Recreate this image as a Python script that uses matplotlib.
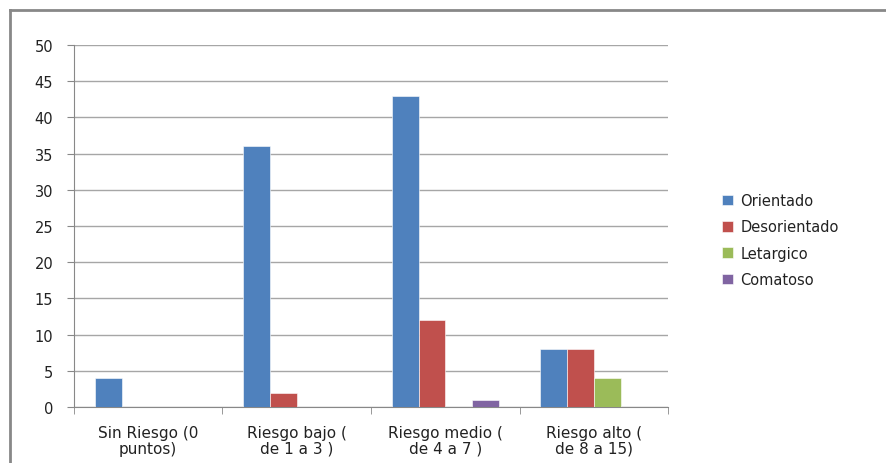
import matplotlib.pyplot as plt
import numpy as np
from matplotlib.lines import Line2D

# grupos de riesgo y estado de conciencia
categorias = ['Sin Riesgo (0\npuntos)', 'Riesgo bajo (\nde 1 a 3 )',
              'Riesgo medio (\nde 4 a 7 )', 'Riesgo alto (\nde 8 a 15)']
orientado = [4, 36, 43, 8]
desorientado = [0, 2, 12, 8]
letargico = [0, 0, 0, 4]
comatoso = [0, 0, 1, 0]

series = ['Orientado', 'Desorientado', 'Letargico', 'Comatoso']
colores = ['#4F81BD', '#C0504D', '#9BBB59', '#8064A2']

plt.rcParams['font.family'] = 'sans-serif'
plt.rcParams['font.sans-serif'] = ['DejaVu Sans']

fig = plt.figure(figsize=(8.86, 4.64), dpi=100)
ax = fig.add_axes([0.0835, 0.1207, 0.6705, 0.7802])

x = np.arange(len(categorias))
w = 0.18
datos = [orientado, desorientado, letargico, comatoso]
for k, (vals, c, nom) in enumerate(zip(datos, colores, series)):
    ax.bar(x + (k - 1.5) * w, vals, w, color=c, label=nom, zorder=3,
           edgecolor='white', linewidth=0.4)

ax.set_xlim(-0.5, 3.5)
ax.set_ylim(0, 50)
ax.set_yticks(range(0, 51, 5))
ax.yaxis.grid(True, color='#a6a6a6', linewidth=1)
ax.set_axisbelow(True)

ax.set_xticks(x)
ax.set_xticklabels(categorias, fontsize=11, color='#222222', linespacing=1.05)
ax.set_xticks(np.arange(-0.5, 4, 1), minor=True)
ax.tick_params(axis='x', which='major', length=0, pad=13)
ax.tick_params(axis='x', which='minor', length=5, color='#888888')
ax.tick_params(axis='y', length=5, color='#888888', labelsize=10.5,
               labelcolor='#222222', pad=10)

for s in ['top', 'right']:
    ax.spines[s].set_visible(False)
for s in ['left', 'bottom']:
    ax.spines[s].set_color('#888888')

leg = fig.legend(loc='upper left', bbox_to_anchor=(0.8, 0.61), frameon=False,
                 fontsize=10.5, handlelength=0.75, handleheight=0.75,
                 handletextpad=0.5, labelspacing=0.78)
for t in leg.get_texts():
    t.set_color('#222222')

# marco del area del grafico
fig.add_artist(Line2D([10 / 886, 10 / 886], [0, 1 - 11 / 464],
                      transform=fig.transFigure, color='#888888', lw=2))
fig.add_artist(Line2D([10 / 886, 1], [1 - 11 / 464, 1 - 11 / 464],
                      transform=fig.transFigure, color='#888888', lw=2))

fig.savefig('out.png', dpi=100)
